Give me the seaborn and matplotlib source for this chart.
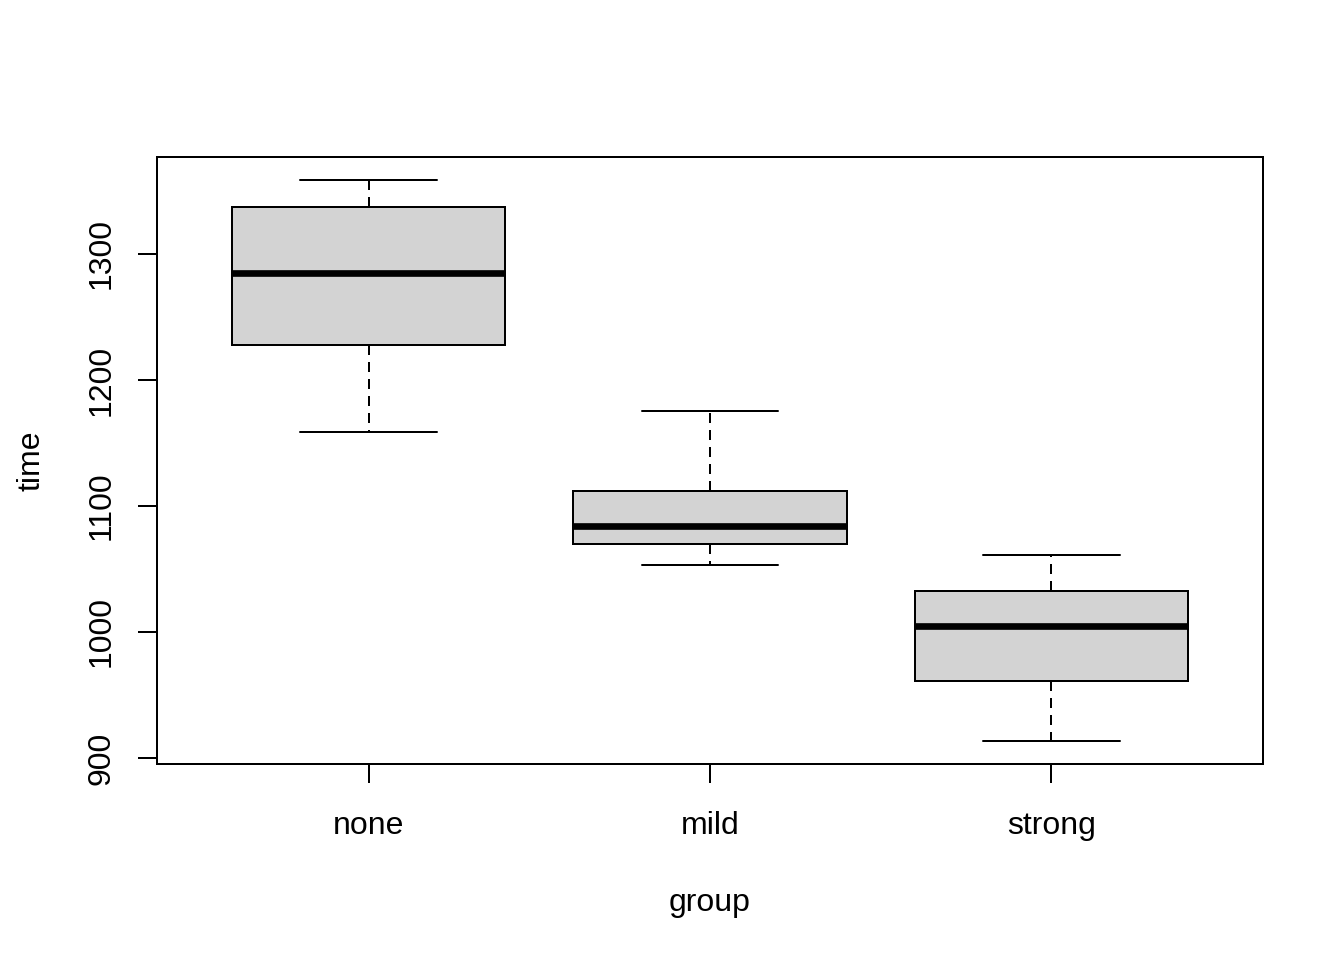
import matplotlib
matplotlib.use('Agg')
import matplotlib.pyplot as plt
import numpy as np
import pandas as pd
import seaborn as sns

# five-number summaries: min, Q1, median, Q3, max
groups = ['none', 'mild', 'strong']
time_none = [1158.7, 1227.8, 1284.9, 1337.3, 1358.7]
time_mild = [1053.2, 1069.8, 1084.1, 1111.9, 1175.4]
time_strong = [913.5, 961.1, 1004.8, 1032.5, 1061.1]
yTicks = [900, 1000, 1100, 1200, 1300]

dfTime = pd.DataFrame({
    'group': ['none']*5 + ['mild']*5 + ['strong']*5,
    'time': time_none + time_mild + time_strong,
})

sns.set_style('white')
plt.rcParams['font.family'] = ['Liberation Sans', 'DejaVu Sans']
plt.rcParams['font.size'] = 12
plt.rcParams['text.color'] = 'black'
plt.rcParams['axes.labelcolor'] = 'black'
plt.rcParams['xtick.color'] = 'black'
plt.rcParams['ytick.color'] = 'black'

fig = plt.figure(figsize=(7, 5), dpi=192)
ax = fig.add_axes([0.1168, 0.2042, 0.8229, 0.6323])

sns.boxplot(data=dfTime, x='group', y='time', order=groups, ax=ax,
            color='#D3D3D3', width=0.8, whis=(0, 100), linecolor='black',
            boxprops=dict(facecolor='#D3D3D3', edgecolor='black', linewidth=0.75),
            medianprops=dict(color='black', linewidth=2.5),
            whiskerprops=dict(color='black', linewidth=0.75, linestyle=(0, (5, 3.5))),
            capprops=dict(color='black', linewidth=0.75),
            capwidths=0.4, showfliers=False)

ax.set_xlim(-0.62, 2.62)
ax.set_ylim(895.2, 1377)
ax.set_yticks(yTicks)
ax.set_yticklabels([str(v) for v in yTicks], rotation=90, va='center')
for s in ax.spines.values():
    s.set_visible(True)
    s.set_color('black')
    s.set_linewidth(0.75)
ax.tick_params(axis='both', which='both', length=7.2, width=0.75, color='black',
               labelcolor='black', labelsize=12, direction='out', bottom=True, left=True)
ax.tick_params(axis='x', pad=10.5)
ax.tick_params(axis='y', pad=8)
ax.set_xlabel('group', fontsize=12, labelpad=17.5)
ax.set_ylabel('time', fontsize=12, labelpad=15)
ax.grid(False)

plt.savefig('out.png', dpi=192)
plt.close()
